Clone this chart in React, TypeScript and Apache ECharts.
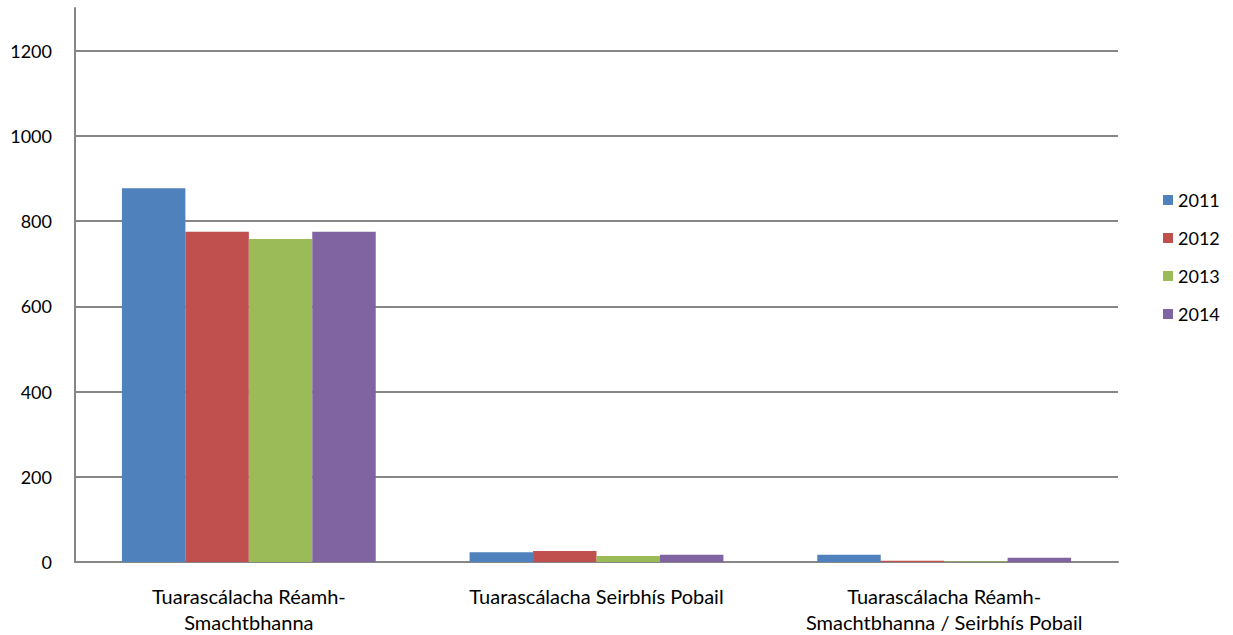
import React, { useEffect, useRef } from "react";
import * as echarts from "echarts";

const categories = [
  "Tuarascálacha Réamh-\nSmachtbhanna",
  "Tuarascálacha Seirbhís Pobail",
  "Tuarascálacha Réamh-\nSmachtbhanna / Seirbhís Pobail",
];
const seriesNames = ["2011", "2012", "2013", "2014"];
const values2011 = [877, 23, 17];
const values2012 = [775, 26, 3];
const values2013 = [758, 14, 1];
const values2014 = [775, 17, 10];
const colors = ["#4F81BD", "#C0504D", "#9BBB59", "#8064A2"];

const FONT = "Lato, 'Open Sans', sans-serif";

export default function App() {
  const ref = useRef<HTMLDivElement>(null);
  useEffect(() => {
    if (!ref.current) return;
    const chart = echarts.init(ref.current, null, { renderer: "svg" });
    const data = [values2011, values2012, values2013, values2014];
    chart.setOption({
      animation: false,
      backgroundColor: "#ffffff",
      grid: { left: 75, right: 115, top: 8, bottom: 73, containLabel: false },
      legend: {
        orient: "vertical",
        left: 1158,
        top: 185,
        itemWidth: 10,
        itemHeight: 10,
        itemGap: 18,
        icon: "rect",
        data: seriesNames,
        textStyle: { fontFamily: FONT, fontSize: 18, color: "#000", lineHeight: 20 },
      },
      xAxis: {
        type: "category",
        data: categories,
        axisLine: { lineStyle: { color: "#868686", width: 2 } },
        axisTick: { show: false },
        axisLabel: {
          interval: 0,
          fontFamily: FONT,
          fontSize: 20,
          color: "#000",
          lineHeight: 26,
          margin: 21,
        },
      },
      yAxis: {
        type: "value",
        min: 0,
        max: 1300,
        interval: 200,
        axisLine: { show: true, lineStyle: { color: "#868686", width: 2 } },
        axisTick: { show: false },
        axisLabel: {
          showMaxLabel: false,
          formatter: (v: number) => String(v),
          fontFamily: FONT,
          fontSize: 18,
          color: "#000",
          margin: 23,
        },
        splitLine: { show: true, showMaxLine: false, lineStyle: { color: "#868686", width: 2 } },
      },
      series: seriesNames.map((name, i) => ({
        name,
        type: "bar",
        data: data[i],
        barGap: "0%",
        barCategoryGap: "27%",
        itemStyle: { color: colors[i] },
      })),
    });
    return () => chart.dispose();
  }, []);
  return <div ref={ref} style={{ width: 1233, height: 635, position: "absolute", left: 0, top: 0 }} />;
}
